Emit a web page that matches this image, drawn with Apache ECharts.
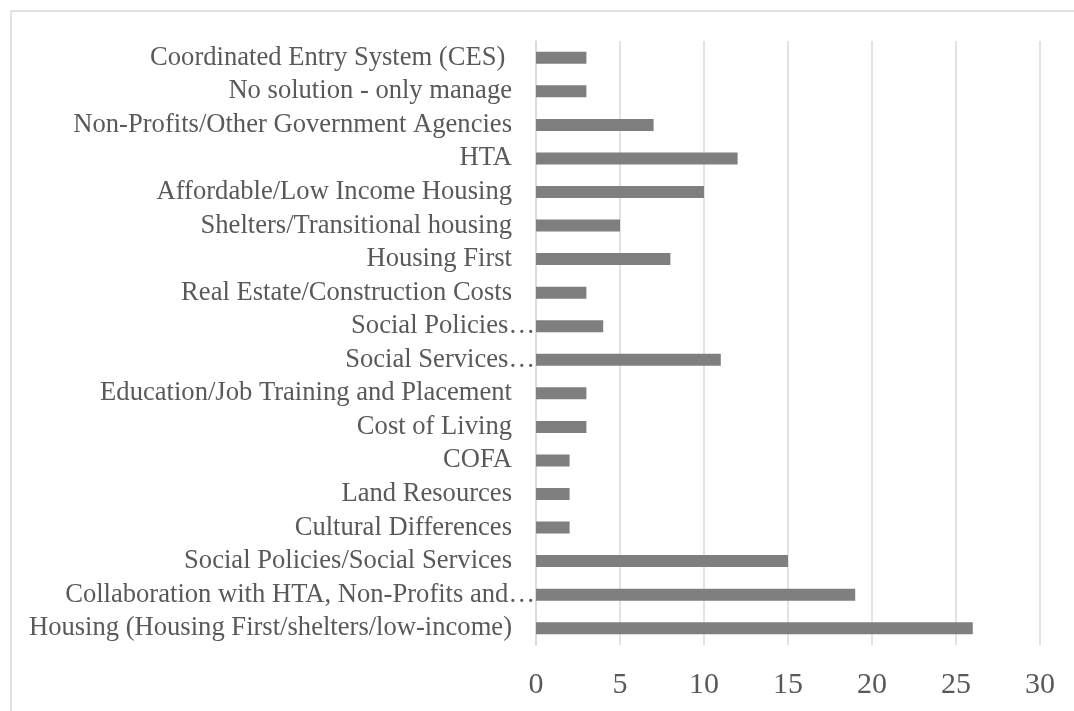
<!DOCTYPE html>
<html>
<head>
<meta charset="utf-8">
<style>
  html, body { margin: 0; padding: 0; background: #ffffff; }
  #chart { width: 1074px; height: 711px; }
</style>
<script src="https://cdn.jsdelivr.net/npm/echarts@6/dist/echarts.min.js"></script>
</head>
<body>
<div id="chart"></div>
<script>
// Categories listed top to bottom as they appear on the axis
const categories = [
  'Coordinated Entry System (CES) ',
  'No solution - only manage',
  'Non-Profits/Other Government Agencies',
  'HTA',
  'Affordable/Low Income Housing',
  'Shelters/Transitional housing',
  'Housing First',
  'Real Estate/Construction Costs',
  'Social Policies…',
  'Social Services…',
  'Education/Job Training and Placement',
  'Cost of Living',
  'COFA',
  'Land Resources',
  'Cultural Differences',
  'Social Policies/Social Services',
  'Collaboration with HTA, Non-Profits and…',
  'Housing (Housing First/shelters/low-income)'
];
const counts = [3, 3, 7, 12, 10, 5, 8, 3, 4, 11, 3, 3, 2, 2, 2, 15, 19, 26];
const xTicks = { min: 0, max: 30, interval: 5 };

const labelFont = { color: '#595959', fontFamily: 'Liberation Serif', fontSize: 26.6 };

const chart = echarts.init(document.getElementById('chart'));
chart.setOption({
  animation: false,
  backgroundColor: '#ffffff',
  graphic: [{
    type: 'rect',
    shape: { x: 11, y: 11, width: 1100, height: 760 },
    style: { fill: 'none', stroke: '#d9d9d9', lineWidth: 1.5 },
    silent: true
  }],
  grid: { left: 536, right: 34, top: 41, bottom: 66, containLabel: false },
  xAxis: {
    type: 'value',
    min: xTicks.min,
    max: xTicks.max,
    interval: xTicks.interval,
    axisLine: { show: false },
    axisTick: { show: false },
    splitLine: { show: true, lineStyle: { color: '#d9d9d9', width: 1.5 } },
    axisLabel: {
      color: '#595959',
      fontFamily: 'Liberation Serif',
      fontSize: 30,
      margin: 25
    }
  },
  yAxis: {
    type: 'category',
    inverse: true,
    data: categories,
    axisLine: { show: true, lineStyle: { color: '#d9d9d9', width: 1.5 } },
    axisTick: { show: false },
    axisLabel: Object.assign({
      interval: 0,
      margin: 0,
      formatter: function (v) {
        // shortened labels run right up to the axis
        return v.endsWith('…') ? '{t|' + v + '}' : '{n|' + v + '}';
      },
      rich: {
        n: Object.assign({ padding: [0, 24, 0, 0] }, labelFont),
        t: Object.assign({ padding: [0, 1, 0, 0] }, labelFont)
      }
    }, labelFont)
  },
  series: [{
    type: 'bar',
    data: counts,
    barWidth: 12,
    itemStyle: { color: '#7f7f7f' },
    silent: true
  }]
});
</script>
</body>
</html>
